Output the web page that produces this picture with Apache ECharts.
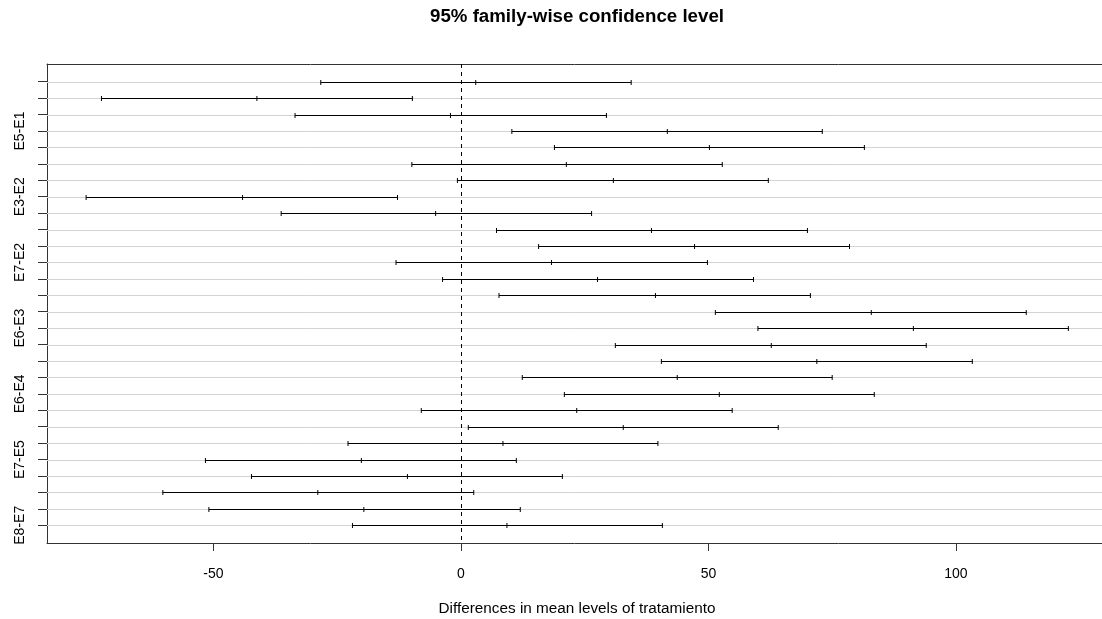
<!DOCTYPE html>
<html>
<head>
<meta charset="utf-8">
<title>95% family-wise confidence level</title>
<script src="https://cdn.jsdelivr.net/npm/echarts@6/dist/echarts.min.js"></script>
<style>
  html, body { margin: 0; padding: 0; background: #fff; }
  #chart { width: 1102px; height: 619px; }
</style>
</head>
<body>
<div id="chart"></div>
<script>
// comparaciones de Tukey (de arriba hacia abajo)
var comparisons = ['E2-E1', 'E3-E1', 'E4-E1', 'E5-E1', 'E6-E1', 'E7-E1', 'E8-E1',
  'E3-E2', 'E4-E2', 'E5-E2', 'E6-E2', 'E7-E2', 'E8-E2',
  'E4-E3', 'E5-E3', 'E6-E3', 'E7-E3', 'E8-E3',
  'E5-E4', 'E6-E4', 'E7-E4', 'E8-E4',
  'E6-E5', 'E7-E5', 'E8-E5',
  'E7-E6', 'E8-E6',
  'E8-E7'];
var lwr = [-28.3, -72.6, -33.5, 10.3, 18.9, -9.9, -0.7,
  -75.7, -36.3, 7.2, 15.7, -13.1, -3.7,
  7.7, 51.4, 60.0, 31.2, 40.5,
  12.4, 20.9, -8.0, 1.5,
  -22.8, -51.6, -42.3,
  -60.2, -50.9,
  -21.9];
var diff = [3.0, -41.2, -2.1, 41.7, 50.2, 21.3, 30.8,
  -44.1, -5.1, 38.5, 47.2, 18.3, 27.6,
  39.3, 82.9, 91.4, 62.7, 71.9,
  43.7, 52.2, 23.4, 32.8,
  8.5, -20.1, -10.8,
  -28.9, -19.6,
  9.3];
var upr = [34.4, -9.8, 29.4, 73.0, 81.5, 52.8, 62.1,
  -12.8, 26.4, 70.0, 78.5, 49.8, 59.1,
  70.6, 114.2, 122.7, 94.0, 103.3,
  75.0, 83.5, 54.8, 64.1,
  39.8, 11.2, 20.5,
  2.6, 12.0,
  40.7];
var xTicks = [-50, 0, 50, 100];
var labelledRows = [4, 8, 12, 16, 20, 24, 28];

var rows = [];
var rowIdx = [];
for (var i = 0; i < comparisons.length; i++) {
  rows.push([i + 1, lwr[i], diff[i], upr[i]]);
  rowIdx.push(i + 1);
}

var chart = echarts.init(document.getElementById('chart'));

function renderInterval(params, api) {
  var r = api.value(0);
  var lo = api.coord([api.value(1), r]);
  var mid = api.coord([api.value(2), r]);
  var hi = api.coord([api.value(3), r]);
  var cs = params.coordSys;
  var y = Math.round(lo[1]) + 0.5;
  var h = 2.5;
  var black = { stroke: '#000', lineWidth: 1 };
  return {
    type: 'group',
    children: [
      { type: 'line', shape: { x1: cs.x, y1: y, x2: cs.x + cs.width, y2: y }, style: { stroke: '#d3d3d3', lineWidth: 1 } },
      { type: 'line', shape: { x1: lo[0], y1: y, x2: hi[0], y2: y }, style: black },
      { type: 'line', shape: { x1: lo[0], y1: y - h, x2: lo[0], y2: y + h }, style: black },
      { type: 'line', shape: { x1: mid[0], y1: y - h, x2: mid[0], y2: y + h }, style: black },
      { type: 'line', shape: { x1: hi[0], y1: y - h, x2: hi[0], y2: y + h }, style: black }
    ]
  };
}

var option = {
  animation: false,
  textStyle: { fontFamily: 'Liberation Sans, Arial, sans-serif' },
  grid: { left: 47, top: 64, right: 0, height: 479 },
  xAxis: [
    {
      type: 'value',
      min: -83.6,
      max: 129.5,
      axisLine: { show: true, onZero: false, lineStyle: { color: '#333' } },
      axisTick: { show: true, length: 8, customValues: xTicks, lineStyle: { color: '#333' } },
      axisLabel: { customValues: xTicks, margin: 24, fontSize: 14, color: '#000' },
      splitLine: { show: false }
    },
    {
      // borde superior de la caja
      type: 'value',
      position: 'top',
      min: -83.6,
      max: 129.5,
      axisLine: { show: true, onZero: false, lineStyle: { color: '#333' } },
      axisTick: { show: false },
      axisLabel: { show: false },
      splitLine: { show: false }
    }
  ],
  yAxis: {
    type: 'value',
    inverse: true,
    min: -0.08,
    max: 29.08,
    axisLine: { show: true, onZero: false, lineStyle: { color: '#333' } },
    axisTick: { show: true, length: 9, customValues: rowIdx, lineStyle: { color: '#333' } },
    axisLabel: {
      customValues: labelledRows,
      rotate: 90,
      margin: 20,
      fontSize: 14,
      color: '#000',
      formatter: function (v) { return comparisons[Math.round(v) - 1]; }
    },
    splitLine: { show: false }
  },
  graphic: [
    {
      type: 'text', x: 577, y: 17,
      style: {
        text: '95% family-wise confidence level', fill: '#000',
        font: 'bold 18.7px "Liberation Sans", Arial, sans-serif',
        textAlign: 'center', textVerticalAlign: 'middle'
      }
    },
    {
      type: 'text', x: 577, y: 609,
      style: {
        text: 'Differences in mean levels of tratamiento', fill: '#000',
        font: '15.3px "Liberation Sans", Arial, sans-serif',
        textAlign: 'center', textVerticalAlign: 'middle'
      }
    }
  ],
  series: [
    {
      type: 'custom',
      xAxisIndex: 0,
      renderItem: renderInterval,
      encode: { x: [1, 2, 3], y: 0 },
      data: rows,
      markLine: {
        silent: true,
        symbol: 'none',
        label: { show: false },
        lineStyle: { color: '#000', width: 1, type: [4, 4] },
        data: [{ xAxis: 0 }]
      }
    }
  ]
};

chart.setOption(option);
</script>
</body>
</html>
